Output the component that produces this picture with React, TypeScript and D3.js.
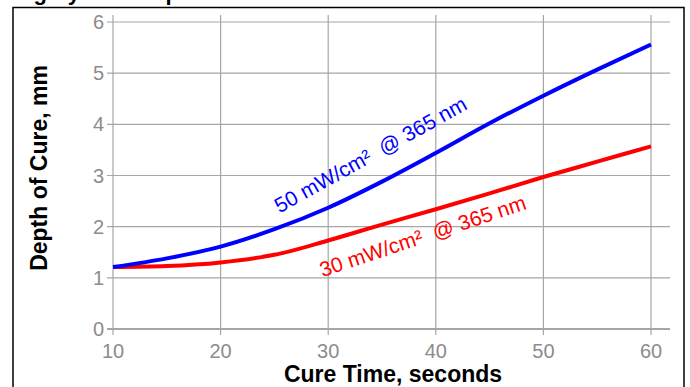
import { useEffect, useRef } from 'react';
import * as d3 from 'd3';

// cure time, seconds
const cureTimes = [10, 15, 20, 25, 30, 35, 40, 45, 50, 55, 60];
// depth of cure, mm
const depth50 = [1.21, 1.38, 1.61, 1.95, 2.37, 2.88, 3.44, 4.02, 4.56, 5.07, 5.56];
const depth30 = [1.21, 1.23, 1.3, 1.45, 1.73, 2.04, 2.34, 2.65, 2.97, 3.27, 3.57];

const xTicks = [10, 20, 30, 40, 50, 60];
const yTicks = [0, 1, 2, 3, 4, 5, 6];

const title = 'Curing System Depth of Cure vs. Cure Time';
const label50 = '50 mW/cm\u00B2  @ 365 nm';
const label30 = '30 mW/cm\u00B2  @ 365 nm';

export default function App() {
  const svgRef = useRef<SVGSVGElement>(null);

  useEffect(() => {
    if (!svgRef.current) return;
    const svg = d3.select(svgRef.current);
    svg.selectAll('*').remove();

    const width = 690;
    const height = 387;
    const font = 'Liberation Sans, Arial, sans-serif';
    const gridColor = '#a6a6a6';
    const tickColor = '#8c8c8c';

    svg.attr('width', width).attr('height', height);

    const x = d3.scaleLinear().domain([10, 60]).range([113, 651]);
    const y = d3.scaleLinear().domain([0, 6]).range([329, 22]);

    const plotRight = x(60) + 19;
    const plotTop = y(6) - 7;

    // cut-off title + frame
    svg
      .append('text')
      .attr('x', -24)
      .attr('y', 0)
      .attr('font-family', font)
      .attr('font-weight', 'bold')
      .attr('font-size', 22)
      .attr('fill', '#000')
      .text(title);

    svg
      .append('rect')
      .attr('x', 13)
      .attr('y', 7.5)
      .attr('width', 671)
      .attr('height', 400)
      .attr('fill', 'none')
      .attr('stroke', '#000')
      .attr('stroke-width', 1.5);

    const g = svg.append('g');

    // grid
    g.selectAll('.hgrid')
      .data(yTicks)
      .enter()
      .append('line')
      .attr('x1', x(10) - 6)
      .attr('x2', plotRight)
      .attr('y1', (d) => y(d))
      .attr('y2', (d) => y(d))
      .attr('stroke', gridColor)
      .attr('stroke-width', (d) => (d === 0 ? 2 : 1.2));

    g.selectAll('.vgrid')
      .data(xTicks)
      .enter()
      .append('line')
      .attr('x1', (d) => x(d))
      .attr('x2', (d) => x(d))
      .attr('y1', plotTop)
      .attr('y2', y(0) + 6)
      .attr('stroke', gridColor)
      .attr('stroke-width', 1.2);

    // tick labels
    g.selectAll('.ylab')
      .data(yTicks)
      .enter()
      .append('text')
      .attr('x', x(10) - 9)
      .attr('y', (d) => y(d))
      .attr('dy', '0.35em')
      .attr('text-anchor', 'end')
      .attr('font-family', font)
      .attr('font-size', 20)
      .attr('fill', tickColor)
      .text((d) => d);

    g.selectAll('.xlab')
      .data(xTicks)
      .enter()
      .append('text')
      .attr('x', (d) => x(d))
      .attr('y', y(0) + 29)
      .attr('text-anchor', 'middle')
      .attr('font-family', font)
      .attr('font-size', 20)
      .attr('fill', tickColor)
      .text((d) => d);

    // axis titles
    svg
      .append('text')
      .attr('x', 393)
      .attr('y', 382)
      .attr('text-anchor', 'middle')
      .attr('font-family', font)
      .attr('font-weight', 'bold')
      .attr('font-size', 23)
      .attr('fill', '#000')
      .text('Cure Time, seconds');

    svg
      .append('text')
      .attr('transform', 'translate(47,168) rotate(-90)')
      .attr('text-anchor', 'middle')
      .attr('font-family', font)
      .attr('font-weight', 'bold')
      .attr('font-size', 23)
      .attr('fill', '#000')
      .text('Depth of Cure, mm');

    // curves
    const line = d3
      .line<number>()
      .x((_, i) => x(cureTimes[i]))
      .y((d) => y(d))
      .curve(d3.curveMonotoneX);

    g.append('path')
      .attr('d', line(depth30))
      .attr('fill', 'none')
      .attr('stroke', '#ff0000')
      .attr('stroke-width', 4);

    g.append('path')
      .attr('d', line(depth50))
      .attr('fill', 'none')
      .attr('stroke', '#0000ff')
      .attr('stroke-width', 4);

    // curve labels
    g.append('text')
      .attr('transform', 'translate(374,161) rotate(-29)')
      .attr('text-anchor', 'middle')
      .attr('font-family', font)
      .attr('font-size', 21)
      .attr('fill', '#0000ff')
      .style('white-space', 'pre')
      .text(label50);

    g.append('text')
      .attr('transform', 'translate(425,243) rotate(-18.5)')
      .attr('text-anchor', 'middle')
      .attr('font-family', font)
      .attr('font-size', 21)
      .attr('fill', '#ff0000')
      .style('white-space', 'pre')
      .text(label30);
  }, []);

  return (
    <svg
      ref={svgRef}
      style={{ position: 'absolute', left: 0, top: 0, display: 'block', background: '#fff' }}
    />
  );
}
